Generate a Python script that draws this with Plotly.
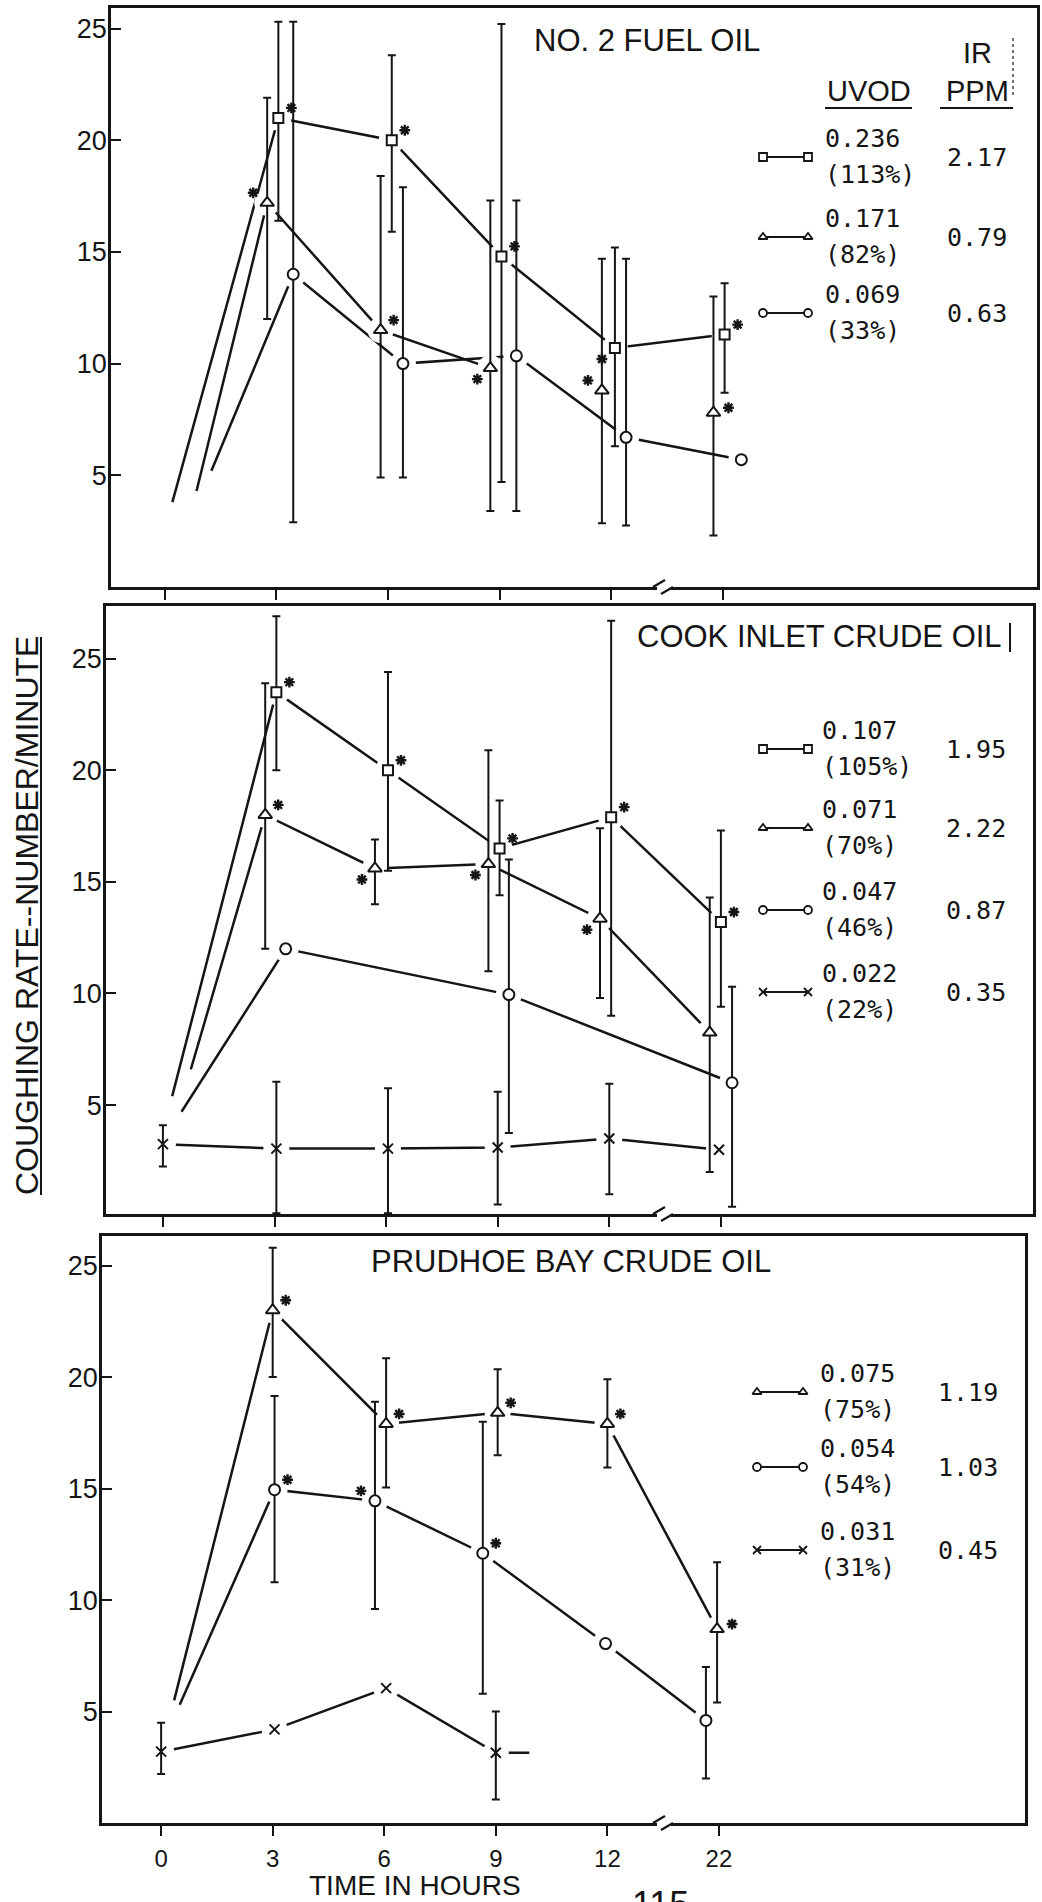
import plotly.graph_objects as go

W, H = 1042, 1902
INK = "#151515"
SANS = "Liberation Sans, Arial, sans-serif"
MONO = "DejaVu Sans Mono, monospace"

# ---------------- data: coughing rate (number/minute) vs time (hours) ----------------
hour_ticks = [0, 3, 6, 9, 12, 22]
rate_ticks = [5, 10, 15, 20, 25]

# No. 2 fuel oil
fuel_sq_t = [3.05, 6.1, 9.05, 12.1, 22.05]
fuel_sq_rate = [21.0, 20.0, 14.8, 10.7, 11.3]
fuel_sq_hi = [25.3, 23.8, 25.2, 15.2, 13.6]
fuel_sq_lo = [16.4, 15.9, 4.7, 6.3, 8.7]
fuel_sq_sig = ["ur", "ur", "ur", "dl", "ur"]
fuel_sq_lead = [0.2, 3.8]

fuel_tr_t = [2.75, 5.8, 8.75, 11.75, 21.75]
fuel_tr_rate = [17.2, 11.5, 9.8, 8.8, 7.8]
fuel_tr_hi = [21.9, 18.4, 17.3, 14.7, 13.0]
fuel_tr_lo = [12.0, 4.9, 3.4, 2.85, 2.3]
fuel_tr_sig = ["ul", "ur", "dl", "ul", "r"]
fuel_tr_lead = [0.85, 4.3]
fuel_tr_link = [1, 1, 1, 0, 0]

fuel_ci_t = [3.45, 6.4, 9.45, 12.4, 22.5]
fuel_ci_rate = [14.0, 10.0, 10.35, 6.7, 5.7]
fuel_ci_hi = [25.3, 17.9, 17.3, 14.7, None]
fuel_ci_lo = [2.9, 4.9, 3.4, 2.75, None]
fuel_ci_lead = [1.25, 5.2]

fuel_uvod = ["0.236", "0.171", "0.069"]
fuel_pct = ["(113%)", "(82%)", "(33%)"]
fuel_ppm = ["2.17", "0.79", "0.63"]

# Cook Inlet crude oil
cook_sq_t = [3.05, 6.05, 9.05, 12.05, 22.0]
cook_sq_rate = [23.5, 20.0, 16.5, 17.9, 13.2]
cook_sq_hi = [26.9, 24.4, 18.65, 26.7, 17.3]
cook_sq_lo = [20.0, 15.5, 14.4, 9.0, 9.4]
cook_sq_sig = ["ur", "ur", "ur", "ur", "ur"]
cook_sq_lead = [0.25, 5.4]

cook_tr_t = [2.75, 5.7, 8.75, 11.75, 21.7]
cook_tr_rate = [18.0, 15.6, 15.8, 13.35, 8.25]
cook_tr_hi = [23.9, 16.9, 20.9, 17.4, 14.3]
cook_tr_lo = [12.0, 14.0, 11.0, 9.8, 2.0]
cook_tr_sig = ["ur", "dl", "dl", "dl", ""]
cook_tr_lead = [0.75, 6.6]

cook_ci_t = [3.3, 9.3, 22.3]
cook_ci_rate = [12.0, 9.95, 6.0]
cook_ci_hi = [None, 16.0, 10.3]
cook_ci_lo = [None, 3.75, 0.45]
cook_ci_lead = [0.5, 4.7]

cook_x_t = [0.0, 3.05, 6.05, 9.0, 12.0, 21.95]
cook_x_rate = [3.25, 3.05, 3.05, 3.1, 3.5, 3.0]
cook_x_hi = [4.1, 6.05, 5.75, 5.6, 5.95, None]
cook_x_lo = [2.25, 0.15, 0.15, 0.55, 1.0, None]

cook_uvod = ["0.107", "0.071", "0.047", "0.022"]
cook_pct = ["(105%)", "(70%)", "(46%)", "(22%)"]
cook_ppm = ["1.95", "2.22", "0.87", "0.35"]

# Prudhoe Bay crude oil
pru_tr_t = [3.0, 6.05, 9.05, 12.0, 21.95]
pru_tr_rate = [23.0, 17.9, 18.4, 17.9, 8.7]
pru_tr_hi = [25.8, 20.85, 20.35, 19.9, 11.7]
pru_tr_lo = [20.0, 15.05, 16.5, 15.95, 5.4]
pru_tr_sig = ["ur", "ur", "ur", "ur", "r"]
pru_tr_lead = [0.35, 5.5]

pru_ci_t = [3.05, 5.75, 8.65, 11.95, 21.65]
pru_ci_rate = [14.95, 14.45, 12.1, 8.05, 4.6]
pru_ci_hi = [19.15, 18.9, 18.0, None, 7.0]
pru_ci_lo = [10.8, 9.6, 5.8, None, 2.0]
pru_ci_sig = ["ur", "ul", "ur", "", ""]
pru_ci_lead = [0.5, 5.3]

pru_x_t = [0.0, 3.05, 6.05, 9.0]
pru_x_rate = [3.2, 4.2, 6.05, 3.15]
pru_x_hi = [4.5, None, None, 5.0]
pru_x_lo = [2.2, None, None, 1.05]
pru_x_tail = [9.9, 3.15]

pru_uvod = ["0.075", "0.054", "0.031"]
pru_pct = ["(75%)", "(54%)", "(31%)"]
pru_ppm = ["1.19", "1.03", "0.45"]

# ---------------- series tables ----------------
def series(sym, t, rate, hi, lo, sig=None, lead=None, link=None, tail=None):
    n = len(t)
    return dict(sym=sym, t=t, rate=rate, hi=hi, lo=lo,
                sig=sig or [""] * n, lead=lead, link=link or [1] * n, tail=tail)

panels = [
    dict(title="NO. 2 FUEL OIL",
         series=[series("square", fuel_sq_t, fuel_sq_rate, fuel_sq_hi, fuel_sq_lo, fuel_sq_sig, fuel_sq_lead),
                 series("triangle-up", fuel_tr_t, fuel_tr_rate, fuel_tr_hi, fuel_tr_lo, fuel_tr_sig, fuel_tr_lead, fuel_tr_link),
                 series("circle", fuel_ci_t, fuel_ci_rate, fuel_ci_hi, fuel_ci_lo, None, fuel_ci_lead)],
         legend=(["square", "triangle-up", "circle"], fuel_uvod, fuel_pct, fuel_ppm)),
    dict(title="COOK INLET CRUDE OIL",
         series=[series("square", cook_sq_t, cook_sq_rate, cook_sq_hi, cook_sq_lo, cook_sq_sig, cook_sq_lead),
                 series("triangle-up", cook_tr_t, cook_tr_rate, cook_tr_hi, cook_tr_lo, cook_tr_sig, cook_tr_lead),
                 series("circle", cook_ci_t, cook_ci_rate, cook_ci_hi, cook_ci_lo, None, cook_ci_lead),
                 series("x-thin-open", cook_x_t, cook_x_rate, cook_x_hi, cook_x_lo)],
         legend=(["square", "triangle-up", "circle", "x-thin-open"], cook_uvod, cook_pct, cook_ppm)),
    dict(title="PRUDHOE BAY CRUDE OIL",
         series=[series("triangle-up", pru_tr_t, pru_tr_rate, pru_tr_hi, pru_tr_lo, pru_tr_sig, pru_tr_lead),
                 series("circle", pru_ci_t, pru_ci_rate, pru_ci_hi, pru_ci_lo, pru_ci_sig, pru_ci_lead),
                 series("x-thin-open", pru_x_t, pru_x_rate, pru_x_hi, pru_x_lo, tail=pru_x_tail)],
         legend=(["triangle-up", "circle", "x-thin-open"], pru_uvod, pru_pct, pru_ppm)),
]

# ---------------- layout geometry (pixels) ----------------
frames = [  # left, right, top, bottom of each plot box
    (111, 1037, 8, 587),
    (106, 1033, 606, 1214),
    (102, 1025, 1236, 1823),
]
x_ranges = [[-1.45, 23.45], [-1.53, 23.39], [-1.59, 23.23]]
y_ranges = [[0.0, 25.92], [0.12, 27.36], [0.0, 26.33]]
title_pos = [(532, 40), (635, 636), (369, 1261)]
legend_rows = [[157, 237, 313], [749, 828, 910, 992], [1392, 1467, 1550]]
legend_glyph_x = [(763, 808), (763, 808), (757, 803)]
legend_text_x = [823, 820, 818]
legend_ppm_x = [977, 976, 968]

MARK_SIZE = {"square": 10, "triangle-up": 12, "circle": 11, "x-thin-open": 10}
STAR_PX = {"ur": (13, -10), "ul": (-14, -10), "dl": (-13, 11), "r": (15, -5), "l": (-14, -5)}


def xpos(t):
    # broken time axis: 22 h sits one step after 12 h
    return t if t <= 13 else 15 + (t - 22)


def axnames(k):
    return ("x" if k == 1 else f"x{k}", "y" if k == 1 else f"y{k}")


fig = go.Figure()
layers = {"line": [], "halo": [], "mark": [], "star": []}

for k, (panel, fr, xr, yr) in enumerate(zip(panels, frames, x_ranges, y_ranges), start=1):
    xa, ya = axnames(k)
    ux = (fr[1] - fr[0]) / (xr[1] - xr[0])
    uy = (fr[3] - fr[2]) / (yr[1] - yr[0])
    for s in panel["series"]:
        xs = [xpos(t) for t in s["t"]]
        ys = s["rate"]
        # connecting line
        lx, ly = [], []
        if s["lead"]:
            lx.append(s["lead"][0]); ly.append(s["lead"][1])
        for i, (x, y) in enumerate(zip(xs, ys)):
            if not s["link"][i] and lx:
                lx.append(None); ly.append(None)
            lx.append(x); ly.append(y)
        if s["tail"]:
            lx.append(xpos(s["tail"][0])); ly.append(s["tail"][1])
        layers["line"].append(go.Scatter(x=lx, y=ly, mode="lines", xaxis=xa, yaxis=ya,
                                         line=dict(color=INK, width=2.5), hoverinfo="skip"))
        # white halo leaves a small gap between line and marker
        layers["halo"].append(go.Scatter(x=xs, y=ys, mode="markers", xaxis=xa, yaxis=ya,
                                         marker=dict(symbol="circle", size=26, color="white",
                                                     line=dict(width=0)), hoverinfo="skip"))
        style = dict(symbol=s["sym"], size=MARK_SIZE[s["sym"]],
                     color=INK if s["sym"].startswith("x") else "white",
                     line=dict(color=INK, width=2))
        with_bar = [i for i in range(len(xs)) if s["hi"][i] is not None]
        no_bar = [i for i in range(len(xs)) if s["hi"][i] is None]
        if with_bar:
            layers["mark"].append(go.Scatter(
                x=[xs[i] for i in with_bar], y=[ys[i] for i in with_bar], mode="markers",
                xaxis=xa, yaxis=ya, marker=style,
                error_y=dict(type="data", symmetric=False,
                             array=[s["hi"][i] - ys[i] for i in with_bar],
                             arrayminus=[ys[i] - s["lo"][i] for i in with_bar],
                             color=INK, thickness=2, width=4)))
        if no_bar:
            layers["mark"].append(go.Scatter(
                x=[xs[i] for i in no_bar], y=[ys[i] for i in no_bar], mode="markers",
                xaxis=xa, yaxis=ya, marker=style))
        # significance asterisks
        sx, sy = [], []
        for i, side in enumerate(s["sig"]):
            if side:
                dx, dy = STAR_PX[side]
                sx.append(xs[i] + dx / ux)
                sy.append(ys[i] - dy / uy)
        if sx:
            layers["star"].append(go.Scatter(x=sx, y=sy, mode="markers", xaxis=xa, yaxis=ya,
                                             marker=dict(symbol="asterisk-open", size=9,
                                                         color=INK, line=dict(color=INK, width=2.4))))

for name in ["line", "halo", "mark", "star"]:
    for tr in layers[name]:
        fig.add_trace(tr)

# ---------------- overlay in pixel units for keys and labels ----------------
annotations, shapes = [], []


def label(x, y, text, size, family=SANS, xanchor="center", yanchor="middle", angle=0):
    annotations.append(dict(x=x, y=y, xref="x4", yref="y4", text=text, showarrow=False,
                            xanchor=xanchor, yanchor=yanchor, textangle=angle,
                            font=dict(family=family, size=size, color=INK)))


def seg(x0, y0, x1, y1, width=2.0, dash="solid"):
    shapes.append(dict(type="line", xref="x4", yref="y4", x0=x0, y0=y0, x1=x1, y1=y1,
                       line=dict(color=INK, width=width, dash=dash), layer="above"))


for k, panel in enumerate(panels):
    tx, ty = title_pos[k]
    label(tx, ty, panel["title"], 31, xanchor="left")
    syms, uvod, pct, ppm = panel["legend"]
    gx0, gx1 = legend_glyph_x[k]
    for sym, u, p, r, gy in zip(syms, uvod, pct, ppm, legend_rows[k]):
        fig.add_trace(go.Scatter(
            x=[gx0, gx1], y=[gy, gy], mode="lines+markers", xaxis="x4", yaxis="y4",
            line=dict(color=INK, width=1.8),
            marker=dict(symbol=sym, size=8, color=INK if sym.startswith("x") else "white",
                        line=dict(color=INK, width=1.8))))
        label(legend_text_x[k], gy - 19, u, 25, family=MONO, xanchor="left")
        label(legend_text_x[k], gy + 17, p, 25, family=MONO, xanchor="left")
        label(legend_ppm_x[k], gy, r, 25, family=MONO)
    # broken-axis mark between 12 h and 22 h
    yb = frames[k][3]
    shapes.append(dict(type="rect", xref="x4", yref="y4", x0=657, x1=671, y0=yb - 4, y1=yb + 4,
                       line=dict(width=0), fillcolor="white", layer="above"))
    seg(653, yb, 665, yb - 7, 2.2)
    seg(661, yb + 7, 673, yb, 2.2)

# key headers of the top panel
label(977, 53, "IR", 29)
label(869, 91, "UVOD", 29)
label(977, 91, "PPM", 29)
seg(825, 108, 912, 108, 2.2)
seg(940, 108, 1013, 108, 2.2)
seg(1013, 38, 1013, 97, 1.2, "dot")
seg(1010, 623, 1010, 652, 2.0)

# shared axis titles
label(27, 916, "COUGHING RATE--NUMBER/MINUTE", 32, angle=-90)
seg(41, 637, 41, 1195, 2.0)
label(415, 1885, "TIME IN HOURS", 28)
label(660, 1882, "115", 36, yanchor="top")

# ---------------- axes ----------------
layout_axes = {}
for k, (fr, xr, yr) in enumerate(zip(frames, x_ranges, y_ranges), start=1):
    l, r, t, b = fr
    sfx = "" if k == 1 else str(k)
    layout_axes["xaxis" + sfx] = dict(
        domain=[l / W, r / W], range=xr, anchor="y" + sfx,
        showline=True, linewidth=2.5, linecolor=INK, mirror=True,
        ticks="outside", ticklen=10, tickwidth=2, tickcolor=INK,
        tickvals=[xpos(h) for h in hour_ticks], ticktext=[str(h) for h in hour_ticks],
        showticklabels=(k == 3), ticklabelstandoff=2,
        tickfont=dict(family=SANS, size=24, color=INK),
        showgrid=False, zeroline=False, fixedrange=True)
    layout_axes["yaxis" + sfx] = dict(
        domain=[1 - b / H, 1 - t / H], range=yr, anchor="x" + sfx,
        showline=True, linewidth=2.5, linecolor=INK, mirror=True,
        ticks="inside", ticklen=10, tickwidth=2, tickcolor=INK,
        tickvals=rate_ticks, ticklabelstandoff=-4,
        tickfont=dict(family=SANS, size=27, color=INK),
        showgrid=False, zeroline=False, fixedrange=True)

layout_axes["xaxis4"] = dict(domain=[0, 1], range=[0, W], anchor="y4", visible=False, fixedrange=True)
layout_axes["yaxis4"] = dict(domain=[0, 1], range=[H, 0], anchor="x4", visible=False, fixedrange=True)

fig.update_layout(
    width=W, height=H, margin=dict(l=0, r=0, t=0, b=0),
    paper_bgcolor="white", plot_bgcolor="rgba(0,0,0,0)",
    showlegend=False, annotations=annotations, shapes=shapes,
    **layout_axes)

fig.write_html("out.html", config={"displayModeBar": False})
